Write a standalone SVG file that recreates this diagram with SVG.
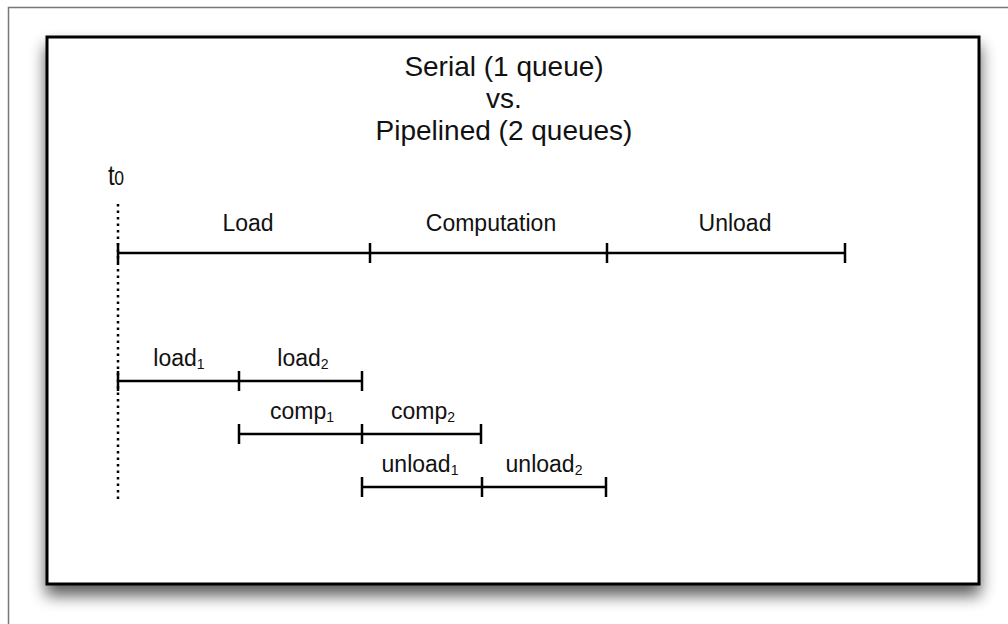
<svg xmlns="http://www.w3.org/2000/svg" width="1008" height="624" viewBox="0 0 1008 624">
  <defs>
    <filter id="shadow" x="-10%" y="-10%" width="120%" height="130%">
      <feGaussianBlur in="SourceAlpha" stdDeviation="8"/>
      <feOffset dx="0" dy="10" result="b"/>
      <feComponentTransfer><feFuncA type="linear" slope="0.65"/></feComponentTransfer>
      <feMerge><feMergeNode/><feMergeNode in="SourceGraphic"/></feMerge>
    </filter>
    <style>
      text { font-family: "Liberation Sans", Arial, sans-serif; fill: #111; }
      .title { font-size: 28px; text-anchor: middle; }
      .lbl { font-size: 23px; text-anchor: middle; }
      .sub { font-size: 14px; }
      .bar { stroke: #000; stroke-width: 2.5; fill: none; }
      .tick { stroke: #000; stroke-width: 2.5; }
    </style>
  </defs>

  <rect width="1008" height="624" fill="#fff"/>
  <!-- outer page frame -->
  <rect x="8.5" y="7.5" width="1010" height="630" fill="#fff" stroke="#777" stroke-width="1.5"/>

  <!-- main panel -->
  <g id="panel">
    <rect x="47" y="37" width="932" height="547" fill="#fff" stroke="#000" stroke-width="3" filter="url(#shadow)"/>
  </g>

  <g id="title">
    <text class="title" x="504" y="76">Serial (1 queue)</text>
    <text class="title" x="504" y="108">vs.</text>
    <text class="title" x="504" y="140">Pipelined (2 queues)</text>
  </g>

  <g id="t0">
    <text x="108" y="185" font-size="27" transform="translate(108 0) scale(0.88 1) translate(-108 0)">t<tspan font-size="20" dx="-0.5">0</tspan></text>
    <line x1="118" y1="204" x2="118" y2="499" stroke="#000" stroke-width="2.5" stroke-dasharray="2.5 4"/>
  </g>

  <!-- serial timeline -->
  <g id="serial">
    <line class="bar" x1="118" y1="253" x2="845" y2="253"/>
    <line class="tick" x1="118" y1="243" x2="118" y2="263"/>
    <line class="tick" x1="370" y1="243" x2="370" y2="263"/>
    <line class="tick" x1="607" y1="243" x2="607" y2="263"/>
    <line class="tick" x1="845" y1="243" x2="845" y2="263"/>
    <text class="lbl" x="248" y="231">Load</text>
    <text class="lbl" x="491" y="231">Computation</text>
    <text class="lbl" x="735" y="231">Unload</text>
  </g>

  <!-- pipelined rows -->
  <g id="row-load">
    <line class="bar" x1="118" y1="381" x2="362" y2="381"/>
    <line class="tick" x1="118" y1="371" x2="118" y2="391"/>
    <line class="tick" x1="239" y1="371" x2="239" y2="391"/>
    <line class="tick" x1="362" y1="371" x2="362" y2="391"/>
    <text class="lbl" x="179" y="366">load<tspan class="sub" dy="3">1</tspan></text>
    <text class="lbl" x="303" y="366">load<tspan class="sub" dy="3">2</tspan></text>
  </g>

  <g id="row-comp">
    <line class="bar" x1="239" y1="434" x2="481" y2="434"/>
    <line class="tick" x1="239" y1="424" x2="239" y2="444"/>
    <line class="tick" x1="362" y1="424" x2="362" y2="444"/>
    <line class="tick" x1="481" y1="424" x2="481" y2="444"/>
    <text class="lbl" x="302" y="419">comp<tspan class="sub" dy="3">1</tspan></text>
    <text class="lbl" x="423" y="419">comp<tspan class="sub" dy="3">2</tspan></text>
  </g>

  <g id="row-unload">
    <line class="bar" x1="362" y1="487" x2="606" y2="487"/>
    <line class="tick" x1="362" y1="477" x2="362" y2="497"/>
    <line class="tick" x1="482" y1="477" x2="482" y2="497"/>
    <line class="tick" x1="606" y1="477" x2="606" y2="497"/>
    <text class="lbl" x="420" y="472">unload<tspan class="sub" dy="3">1</tspan></text>
    <text class="lbl" x="544" y="472">unload<tspan class="sub" dy="3">2</tspan></text>
  </g>
</svg>
